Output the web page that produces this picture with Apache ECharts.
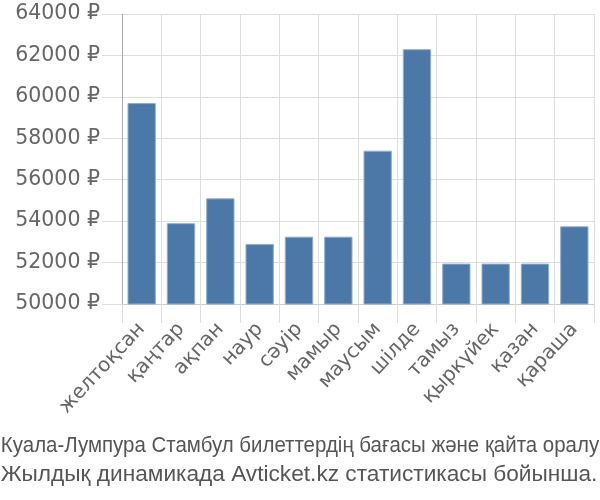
<!DOCTYPE html>
<html><head><meta charset="utf-8">
<script src="https://cdn.jsdelivr.net/npm/echarts@6/dist/echarts.min.js"></script>
<style>html,body{margin:0;padding:0;background:#fff}#c{width:600px;height:500px}</style>
</head><body><div id="c"></div>
<script>
var categories = ['желтоқсан','қаңтар','ақпан','наур','сәуір','мамыр','маусым','шілде','тамыз','қыркүйек','қазан','қараша'];
var prices = [59700, 53900, 55100, 52900, 53250, 53250, 57400, 62300, 51950, 51950, 51950, 53750];
var titleLines = ['Куала-Лумпура Стамбул билеттердің бағасы және қайта оралу','Жылдық динамикада Avticket.kz статистикасы бойынша.'];
var chart = echarts.init(document.getElementById('c'));
chart.setOption({
  animation:false,
  graphic:[
    {type:'text',x:300,y:446,scaleX:0.93,style:{text:titleLines[0],x:0,y:0,align:'center',verticalAlign:'middle',fontFamily:'Liberation Sans',fontSize:22,fill:'#555'}},
    {type:'text',x:299,y:475,scaleX:1.03,style:{text:titleLines[1],x:0,y:0,align:'center',verticalAlign:'middle',fontFamily:'Liberation Sans',fontSize:22,fill:'#555'}}
  ],
  grid:{left:122,right:6,top:14,bottom:196,containLabel:false},
  xAxis:{type:'category',data:categories,boundaryGap:true,
    axisLine:{show:true,lineStyle:{color:'#ccc'}},
    axisTick:{show:true,length:19,lineStyle:{color:'#ddd'}},
    splitLine:{show:true,lineStyle:{color:'#ddd'}},
    axisLabel:{rotate:47,fontFamily:'DejaVu Sans',fontSize:20,color:'#666',margin:22,interval:0}},
  yAxis:{type:'value',min:50000,max:64000,interval:2000,
    axisLine:{show:true,lineStyle:{color:'#aaa'}},
    axisTick:{show:true,length:20,lineStyle:{color:'#ddd'}},
    splitLine:{show:true,lineStyle:{color:'#ddd'}},
    axisLabel:{formatter:function(v){return v+' ₽';},fontFamily:'DejaVu Sans',fontSize:20.5,color:'#666',margin:22}},
  series:[{type:'bar',data:prices,barCategoryGap:'28%',
    itemStyle:{color:'#4c78a8',borderColor:'#8fadcf',borderWidth:1}}]
});
</script></body></html>
